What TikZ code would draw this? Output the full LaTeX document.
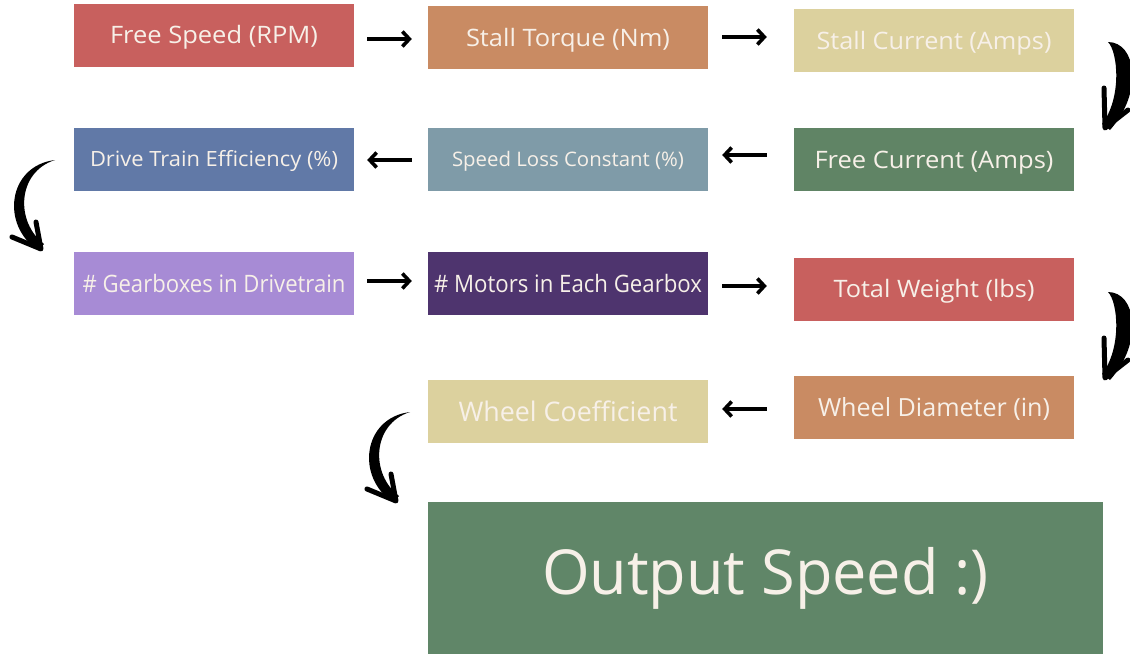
\documentclass[tikz,border=0pt]{standalone}
\usepackage{fontspec}
\setmainfont{Open Sans}
\usepackage{graphicx}
\usetikzlibrary{arrows.meta}

% box fills
\definecolor{cRed}{RGB}{200,96,94}
\definecolor{cOrange}{RGB}{201,139,99}
\definecolor{cSand}{RGB}{220,209,158}
\definecolor{cBlue}{RGB}{97,121,167}
\definecolor{cSlate}{RGB}{127,155,168}
\definecolor{cGreen}{RGB}{96,132,101}
\definecolor{cLilac}{RGB}{167,139,213}
\definecolor{cPlum}{RGB}{78,52,110}
\definecolor{cOut}{RGB}{96,134,104}
\definecolor{cText}{RGB}{247,240,232}

% set a label at a given size and squeeze/stretch it to a given width
\newsavebox\fitbox
\newlength\fitlen
\newcommand\fsz[1]{\fontsize{#1}{#1}\selectfont}
\newcommand\fitwn[2]{\sbox\fitbox{#2}\setlength\fitlen{\wd\fitbox}%
  \pgfmathsetmacro\fitratio{#1/\fitlen}\scalebox{\fitratio}[1]{\usebox\fitbox}}
% same, with a strut so that the capitals sit on the box's middle line
\newcommand\fitw[2]{\fitwn{#1}{#2}\vrule height 0.954em depth 0.24em width 0pt}

\tikzset{
  box/.style={minimum width=280pt, minimum height=63pt, inner sep=0pt,
    text=cText, anchor=center},
  flow/.style 2 args={line width=3.6pt,
    -{Straight Barb[length=7pt,width=15pt]},
    shorten <=#1, shorten >=#2},
  hookL/.pic={
    \fill (0,0) .. controls (-48,6) and (-54,66) .. (-17,90)
      -- (-11,84) .. controls (-40,62) and (-38,12) .. (0,0) -- cycle;
    \draw[line width=5pt, line cap=round, line join=round]
      (-43,77) -- (-14,89) -- (-19,62);
  },
  hookR/.pic={
    \fill (0,0) .. controls (28,0) and (36,50) .. (2,88)
      -- (-6,82) .. controls (14,56) and (10,10) .. (0,0) -- cycle;
    \draw[line width=5pt, line cap=round, line join=round]
      (-4,46) -- (-3,86) -- (20,68);
  }
}

\begin{document}
\begin{tikzpicture}[x=1pt, y=-1pt]
\useasboundingbox (0,0) rectangle (1130,654);
\fill[white] (0,0) rectangle (1130,654);
\clip (0,0) rectangle (1130,654);

% row 1
\node[box, fill=cRed]    (fs)  at (214,35)    {\fsz{24}\fitw{208}{Free Speed (RPM)}};
\node[box, fill=cOrange] (st)  at (568,37.5)  {\fsz{24}\fitw{204}{Stall Torque (Nm)}};
\node[box, fill=cSand]   (sc)  at (934,40.5)  {\fsz{24}\fitw{235}{Stall Current (Amps)}};
% row 2
\node[box, fill=cBlue]   (dte) at (214,159.5) {\fsz{21}\fitw{248}{Drive Train Efficiency (\%)}};
\node[box, fill=cSlate]  (slc) at (568,159.5) {\fsz{20}\fitw{232}{Speed Loss Constant (\%)}};
\node[box, fill=cGreen]  (fc)  at (934,159.5) {\fsz{24}\fitw{239}{Free Current (Amps)}};
% row 3
\node[box, fill=cLilac]  (gb)  at (214,283.5) {\fsz{24}\fitw{263}{\# Gearboxes in Drivetrain}};
\node[box, fill=cPlum]   (mo)  at (568,283.5) {\fsz{24}\fitw{268}{\# Motors in Each Gearbox}};
\node[box, fill=cRed]    (tw)  at (934,289)   {\fsz{24}\fitw{201}{Total Weight (lbs)}};
% row 4
\node[box, fill=cSand]   (wc)  at (568,411.5) {\fsz{27}\fitw{219}{Wheel Coefficient}};
\node[box, fill=cOrange] (wd)  at (934,407.5) {\fsz{25}\fitw{232}{Wheel Diameter (in)}};
% result
\node[box, fill=cOut, minimum width=675pt, minimum height=152pt]
  (out) at (765.5,578) {\fsz{62}\fitwn{447}{Output Speed :)}};

% straight connectors
\draw[flow={13pt}{16pt}] ([yshift=-4pt]fs.east)   -- ([yshift=-1.5pt]st.west);
\draw[flow={14pt}{27pt}] ([yshift=0.5pt]st.east)  -- ([yshift=3.5pt]sc.west);
\draw[flow={27pt}{14pt}] ([yshift=4.5pt]fc.west)  -- ([yshift=4.5pt]slc.east);
\draw[flow={16pt}{13pt}] ([yshift=-0.5pt]slc.west) -- ([yshift=-0.5pt]dte.east);
\draw[flow={13pt}{16pt}] ([yshift=2.5pt]gb.east)  -- ([yshift=2.5pt]mo.west);
\draw[flow={14pt}{27pt}] ([yshift=-2.5pt]mo.east) -- ([yshift=3pt]tw.west);
\draw[flow={27pt}{14pt}] ([yshift=-1.5pt]wd.west) -- ([yshift=2.5pt]wc.east);

% curved connectors between rows
\coordinate (hA) at (1108,42);
\coordinate (hB) at (55,160);
\coordinate (hC) at (1108,292);
\coordinate (hD) at (410,412);
\pic at (hA) {hookR};
\pic at (hB) {hookL};
\pic at (hC) {hookR};
\pic at (hD) {hookL};
\end{tikzpicture}
\end{document}
